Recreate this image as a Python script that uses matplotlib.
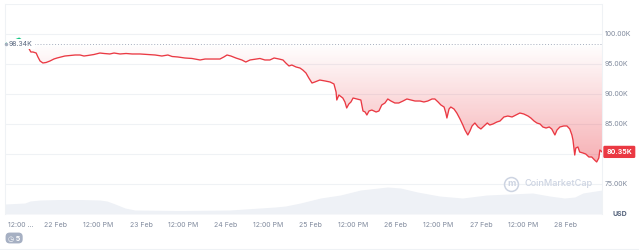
import numpy as np
import matplotlib
matplotlib.use("Agg")
import matplotlib.pyplot as plt
from matplotlib.patches import Rectangle

plt.rcParams['font.family'] = ['Inter', 'DejaVu Sans']

# hours from 22 Feb 00:00, price in thousand USD
hours = [-14.4, -12.4, -10.4, -8.5, -7.1, -6.5, -5.6, -5.1, -4.5, -3.7, -2.8, -1.7, -0.6, 0.3, 1.4,
         2.5, 4.0, 5.4, 6.8, 7.9, 9.0, 10.7, 12.4, 13.6, 15.2, 16.4, 18.1, 19.8, 21.5, 23.7,
         26.0, 28.0, 29.9, 31.6, 32.8, 34.4, 36.4, 38.4, 40.7, 42.1, 44.0, 46.3, 47.4, 48.3,
         49.4, 50.8, 52.5, 53.6, 54.8, 56.5, 57.6, 59.0, 60.4, 61.6, 63.0, 64.1, 64.9, 65.8,
         66.6, 67.8, 68.9, 69.7, 70.6, 71.4, 72.3, 73.1, 74.5, 76.0, 77.4, 78.5, 79.1, 79.3,
         79.9, 81.0, 81.6, 82.1, 82.7, 83.3, 83.9, 85.0, 86.1, 86.7, 87.3, 87.8, 88.4, 89.2,
         90.4, 91.2, 92.0, 92.9, 93.7, 94.6, 95.7, 96.8, 98.0, 99.1, 100.2, 101.4, 102.8,
         103.9, 105.0, 106.2, 107.0, 107.9, 108.7, 109.6, 110.1, 110.4, 111.0, 111.5, 112.4,
         113.2, 114.1, 114.9, 115.5, 116.3, 116.9, 117.5, 118.3, 119.2, 120.0, 120.9, 121.8,
         122.5, 123.4, 124.5, 125.4, 126.5, 127.6, 128.8, 129.9, 131.0, 132.1, 133.3, 134.1,
         135.0, 135.8, 136.7, 137.5, 138.4, 139.3, 140.0, 140.9, 141.5, 142.3, 143.4, 144.3,
         145.1, 145.7, 146.0, 146.5, 146.8, 147.4, 147.9, 148.8, 149.6, 150.5, 151.3, 152.1,
         152.7, 153.3, 153.6, 154.2]
prices = [98.34, 98.8, 99.3, 98.5, 97.0, 97.0, 96.83, 96.17, 95.5, 95.17, 95.25, 95.5, 95.83, 96.0, 96.17,
          96.33, 96.42, 96.5, 96.5, 96.33, 96.42, 96.58, 96.83, 96.75, 96.67, 96.83, 96.67, 96.75, 96.67, 96.67,
          96.58, 96.5, 96.33, 96.5, 96.25, 96.17, 96.0, 95.92, 95.67, 95.83, 95.83, 95.83, 96.17, 96.5,
          96.33, 96.0, 95.67, 95.33, 95.67, 95.83, 95.92, 95.67, 95.67, 96.0, 95.83, 95.67, 95.17, 94.67,
          94.83, 94.5, 94.33, 94.0, 93.5, 92.67, 91.83, 92.0, 92.33, 92.17, 92.0, 91.67, 90.33, 89.0,
          89.83, 89.33, 88.67, 87.67, 88.33, 88.67, 89.33, 89.17, 89.0, 87.17, 87.0, 86.5, 87.17, 87.33,
          87.0, 87.17, 88.17, 88.5, 89.17, 88.83, 88.5, 88.5, 88.83, 89.17, 89.0, 88.83, 88.83,
          88.67, 88.83, 89.17, 89.17, 88.67, 88.17, 87.83, 86.83, 86.0, 87.5, 87.83, 87.5,
          86.83, 85.83, 84.83, 84.0, 83.17, 83.83, 84.67, 85.17, 84.5, 84.17, 84.67, 85.17,
          84.83, 85.0, 85.33, 85.5, 86.17, 86.33, 86.17, 86.5, 86.83, 86.67, 86.33, 86.0,
          85.5, 85.17, 85.0, 84.5, 84.33, 84.5, 84.17, 83.17, 84.0, 84.5, 84.67, 84.67,
          84.17, 83.17, 82.33, 79.83, 81.0, 81.17, 80.33, 80.17, 80.0, 79.5, 79.5, 79.0,
          78.67, 79.33, 80.67, 80.35]

# volume (relative units)
vol_hours = [-14.4, -8.8, -7.3, -4.5, 1.1, 6.8, 12.4, 14.4, 16.7, 19.5, 22.3, 35.0, 49.1, 57.6, 61.9,
             64.8, 69.0, 74.7, 80.3, 86.0, 93.6, 97.3, 102.1, 108.3, 114.8, 121.6, 128.0, 134.6,
             139.4, 143.6, 146.5, 148.8, 154.2]
volume = [10, 11, 13, 14, 14.5, 14.5, 14, 13, 10, 6, 4, 3.5, 4, 6, 7, 8, 11, 16, 19, 24, 27, 26, 22,
          18, 16, 19, 20, 21, 18, 16, 17, 21, 24]

open_price = 98.34
last_price = 80.35
grid_levels = [70, 75, 80, 85, 90, 95, 100, 105]
label_levels = [75, 80, 85, 90, 95, 100]
tick_hours = [-10, 0, 12, 24, 36, 48, 60, 72, 84, 96, 108, 120, 132, 144]
tick_labels = ['12:00 ...', '22 Feb', '12:00 PM', '23 Feb', '12:00 PM', '24 Feb', '12:00 PM',
               '25 Feb', '12:00 PM', '26 Feb', '12:00 PM', '27 Feb', '12:00 PM', '28 Feb']

red = '#ea3943'
green = '#16c784'
grey_txt = '#808a9d'

fig = plt.figure(figsize=(6.39, 2.5), dpi=100)
rect = [5 / 639, 36 / 250, 597 / 639, 210 / 250]

axv = fig.add_axes(rect)
axv.fill_between(vol_hours, volume, 0, color='#eef1f6', lw=0)
axv.set_xlim(hours[0], hours[-1])
axv.set_ylim(0, 210)
axv.axis('off')

ax = fig.add_axes(rect)
ax.patch.set_visible(False)
ax.set_xlim(hours[0], hours[-1])
ax.set_ylim(70, 105)
for g in grid_levels:
    ax.axhline(g, color='#eff2f5', lw=0.8, zorder=0)
ax.axhline(open_price, color='#a7b0c0', lw=0.7, ls=(0, (1, 2)), zorder=1)

# gradient fill between line and opening price
p = np.array(prices)
lower = np.minimum(p, open_price)
poly = ax.fill_between(hours, lower, open_price, color='none', lw=0)
grad = np.zeros((256, 1, 4))
grad[..., 0], grad[..., 1], grad[..., 2] = 0.918, 0.224, 0.263
grad[:, 0, 3] = np.linspace(0.0, 0.4, 256)
im = ax.imshow(grad, extent=[hours[0], hours[-1], 78.5, open_price], origin='upper',
               aspect='auto', zorder=1, interpolation='bilinear')
im.set_clip_path(poly.get_paths()[0], transform=ax.transData)

below = Rectangle((hours[0], 60), hours[-1] - hours[0], open_price - 60, transform=ax.transData)
above = Rectangle((hours[0], open_price), hours[-1] - hours[0], 50, transform=ax.transData)
l1, = ax.plot(hours, prices, color=red, lw=0.95, zorder=3)
l1.set_clip_path(below)
l2, = ax.plot(hours, prices, color=green, lw=0.95, zorder=3)
l2.set_clip_path(above)

ax.yaxis.tick_right()
ax.set_yticks(label_levels)
ax.set_yticklabels(['%.2fK' % v if v != 80 else '' for v in label_levels])
ax.tick_params(axis='y', length=0, pad=2.2, labelsize=5, labelcolor=grey_txt)
ax.set_xticks(tick_hours)
ax.set_xticklabels(tick_labels)
ax.tick_params(axis='x', length=0, pad=6, labelsize=5, labelcolor=grey_txt)
for s in ['top', 'bottom']:
    ax.spines[s].set_visible(False)
for s in ['left', 'right']:
    ax.spines[s].set_color('#eff2f5')
    ax.spines[s].set_linewidth(0.8)

ax.text(-13.3, open_price, '98.34K', fontsize=5, color='#58667e', va='center', ha='left', zorder=5,
        bbox=dict(boxstyle='square,pad=0.3', fc='white', ec='none'))
ax.plot([hours[0] + 0.3], [open_price], marker='o', ms=1.5, color='#a7b0c0', zorder=5, clip_on=False)

ax.annotate('%.2fK' % last_price, xy=(1, last_price), xycoords=('axes fraction', 'data'),
            xytext=(3.2, 0), textcoords='offset points', fontsize=5, color='white', weight='bold',
            va='center', ha='left', zorder=10, annotation_clip=False,
            bbox=dict(boxstyle='round,pad=0.45,rounding_size=0.2', fc=red, ec='none'))

ax.text(1.017, -0.002, 'USD', transform=ax.transAxes, fontsize=5, color='#58667e', weight='bold',
        va='center', ha='left')

# watermark
ax.plot([128.6], [75.0], marker='o', ms=10, mfc='none', mec='#cdd4e2', mew=1.1, zorder=2)
ax.text(128.6, 75.0, 'm', fontsize=6.5, color='#cdd4e2', ha='center', va='center', weight='bold')
ax.text(151.5, 75.0, 'CoinMarketCap', fontsize=6.6, color='#cdd4e2', ha='right', va='center',
        weight='medium')

fig.text(8 / 639, 1 - 238 / 250, '\u25f7 5', fontsize=5, color='white', weight='bold',
         va='center', ha='left', bbox=dict(boxstyle='round,pad=0.35,rounding_size=0.6',
                                           fc='#a6b0c3', ec='none'))
fig.add_artist(plt.Line2D([0, 1], [1 / 250, 1 / 250], color='#eff2f5', lw=0.8))

fig.savefig('out.png', dpi=100)
